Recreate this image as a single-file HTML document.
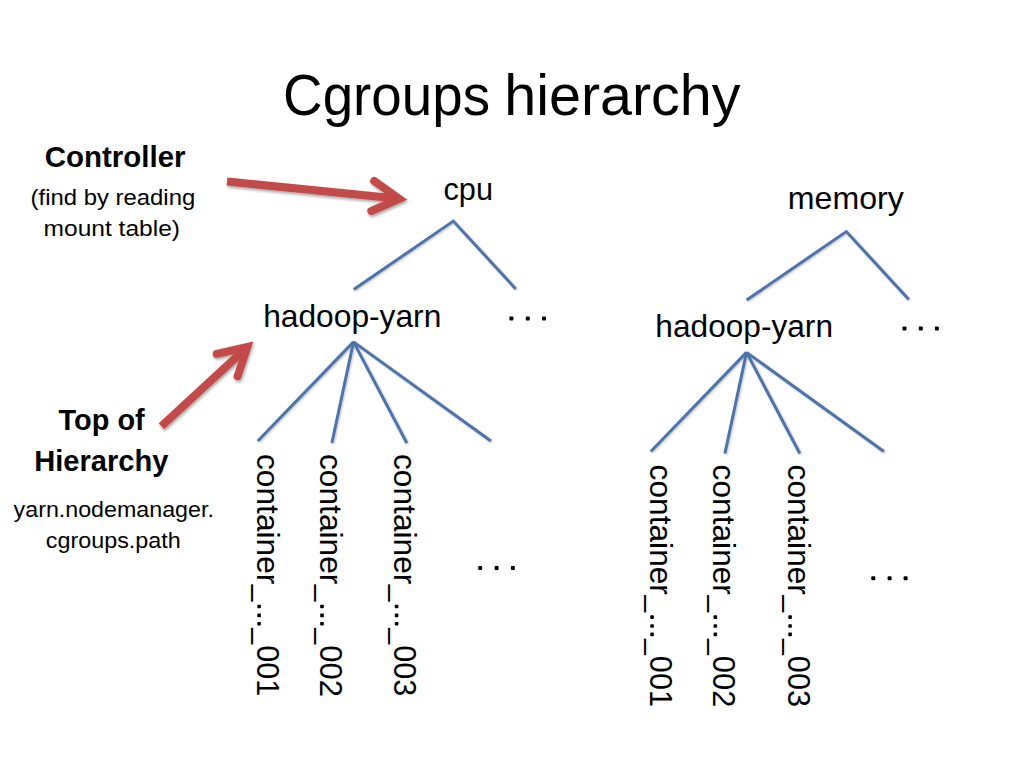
<!DOCTYPE html>
<html><head><meta charset="utf-8"><style>
html,body{margin:0;padding:0;background:#fff;}
body{width:1024px;height:768px;overflow:hidden;}
svg{display:block;}
text{font-family:"Liberation Sans", sans-serif;fill:#000;}
</style></head><body>
<svg width="1024" height="768" viewBox="0 0 1024 768">
<defs>
<filter id="sh" x="-20%" y="-20%" width="140%" height="140%">
<feGaussianBlur in="SourceAlpha" stdDeviation="1.5"/>
<feOffset dx="1" dy="2" result="o"/>
<feComponentTransfer><feFuncA type="linear" slope="0.35"/></feComponentTransfer>
<feMerge><feMergeNode/><feMergeNode in="SourceGraphic"/></feMerge>
</filter>
<filter id="sh2" x="-20%" y="-20%" width="140%" height="140%">
<feGaussianBlur in="SourceAlpha" stdDeviation="1"/>
<feOffset dx="0.7" dy="1.2" result="o"/>
<feComponentTransfer><feFuncA type="linear" slope="0.25"/></feComponentTransfer>
<feMerge><feMergeNode/><feMergeNode in="SourceGraphic"/></feMerge>
</filter>
</defs>
<rect width="1024" height="768" fill="#fff"/>
<g fill="none" stroke="#4E73A9" stroke-width="3" stroke-linejoin="miter" filter="url(#sh2)">
<polyline points="353.7,289.5 453.3,221.1 515.8,288.9" />
<line x1="353.5" y1="341.9" x2="257.8" y2="441" />
<line x1="353.5" y1="341.9" x2="331.9" y2="443" />
<line x1="353.5" y1="341.9" x2="406.8" y2="443" />
<line x1="353.5" y1="341.9" x2="490.9" y2="441" />
<polyline points="746.7,300.0 846.3,231.6 908.8,299.4" />
<line x1="746.5" y1="352.4" x2="650.8" y2="451.5" />
<line x1="746.5" y1="352.4" x2="724.9" y2="453.5" />
<line x1="746.5" y1="352.4" x2="799.8" y2="453.5" />
<line x1="746.5" y1="352.4" x2="883.9" y2="451.5" />
</g>
<g fill="none" stroke="#C24C49" stroke-width="8" filter="url(#sh)">
<line x1="227" y1="181.5" x2="399.3" y2="198.8" stroke-linecap="butt"/><polyline points="374.2,181 399.3,198.8 371.3,211" stroke-linecap="round" stroke-linejoin="miter" stroke-miterlimit="10"/>
<line x1="161.4" y1="426.3" x2="247.3" y2="347" stroke-linecap="butt"/><polyline points="216.7,353.8 247.3,347 237.6,376.2" stroke-linecap="round" stroke-linejoin="miter" stroke-miterlimit="10"/>
</g>
<g fill="#000">
<rect x="478.2" y="566.1" width="4" height="4" rx="1"/>
<rect x="494.6" y="566.1" width="4" height="4" rx="1"/>
<rect x="510.9" y="566.1" width="4" height="4" rx="1"/>
<rect x="509.4" y="316.5" width="4" height="4" rx="1"/>
<rect x="525.8" y="316.5" width="4" height="4" rx="1"/>
<rect x="542.0" y="316.5" width="4" height="4" rx="1"/>
<rect x="902.5" y="326.6" width="4" height="4" rx="1"/>
<rect x="918.8" y="326.6" width="4" height="4" rx="1"/>
<rect x="934.9" y="326.6" width="4" height="4" rx="1"/>
<rect x="871.3" y="576.2" width="4" height="4" rx="1"/>
<rect x="887.6" y="576.2" width="4" height="4" rx="1"/>
<rect x="903.6" y="576.2" width="4" height="4" rx="1"/>
<rect x="257.3" y="604.7" width="3.6" height="3.6" rx="0.8"/>
<rect x="257.3" y="613.6" width="3.6" height="3.6" rx="0.8"/>
<rect x="257.3" y="622.0" width="3.6" height="3.6" rx="0.8"/>
<rect x="320.2" y="604.7" width="3.6" height="3.6" rx="0.8"/>
<rect x="320.2" y="613.6" width="3.6" height="3.6" rx="0.8"/>
<rect x="320.2" y="622.0" width="3.6" height="3.6" rx="0.8"/>
<rect x="394.8" y="604.7" width="3.6" height="3.6" rx="0.8"/>
<rect x="394.8" y="613.6" width="3.6" height="3.6" rx="0.8"/>
<rect x="394.8" y="622.0" width="3.6" height="3.6" rx="0.8"/>
<rect x="650.3" y="615.3" width="3.6" height="3.6" rx="0.8"/>
<rect x="650.3" y="624.2" width="3.6" height="3.6" rx="0.8"/>
<rect x="650.3" y="632.6" width="3.6" height="3.6" rx="0.8"/>
<rect x="713.5" y="615.3" width="3.6" height="3.6" rx="0.8"/>
<rect x="713.5" y="624.2" width="3.6" height="3.6" rx="0.8"/>
<rect x="713.5" y="632.6" width="3.6" height="3.6" rx="0.8"/>
<rect x="788.3" y="615.3" width="3.6" height="3.6" rx="0.8"/>
<rect x="788.3" y="624.2" width="3.6" height="3.6" rx="0.8"/>
<rect x="788.3" y="632.6" width="3.6" height="3.6" rx="0.8"/>
</g>
<g>
<text transform="translate(283.12 115.20) scale(0.9610 1)" font-size="57" font-weight="400">Cgroups</text>
<text transform="translate(504.27 115.20) scale(1.0074 1)" font-size="57" font-weight="400">hierarchy</text>
<text transform="translate(44.82 166.50) scale(0.9817 1)" font-size="30" font-weight="700">Controller</text>
<text transform="translate(30.61 204.70) scale(1.0859 1)" font-size="22" font-weight="400">(find by reading</text>
<text transform="translate(43.57 236.20) scale(1.1160 1)" font-size="22" font-weight="400">mount table)</text>
<text transform="translate(443.51 200.20) scale(0.9894 1)" font-size="31" font-weight="400">cpu</text>
<text transform="translate(787.83 208.90) scale(1.0355 1)" font-size="31" font-weight="400">memory</text>
<text transform="translate(263.20 326.70) scale(1.0232 1)" font-size="31" font-weight="400">hadoop-yarn</text>
<text transform="translate(655.36 336.50) scale(1.0206 1)" font-size="31" font-weight="400">hadoop-yarn</text>
<text transform="translate(58.60 429.70) scale(0.9633 1)" font-size="30" font-weight="700">Top of</text>
<text transform="translate(34.31 470.80) scale(0.9688 1)" font-size="30" font-weight="700">Hierarchy</text>
<text transform="translate(13.60 516.90) scale(1.0569 1)" font-size="22" font-weight="400">yarn.nodemanager.</text>
<text transform="translate(45.84 548.00) scale(1.0608 1)" font-size="22" font-weight="400">cgroups.path</text>
<text transform="translate(256.80 454.01) rotate(90) scale(0.9904 1)" font-size="32" font-weight="400">container</text>
<text transform="translate(256.80 584.80) rotate(90) scale(0.9333 1)" font-size="32" font-weight="400">_</text>
<text transform="translate(256.80 628.30) rotate(90) scale(0.8944 1)" font-size="32" font-weight="400">_</text>
<text transform="translate(256.80 645.25) rotate(90) scale(0.9549 1)" font-size="32" font-weight="400">001</text>
<text transform="translate(319.70 454.01) rotate(90) scale(0.9904 1)" font-size="32" font-weight="400">container</text>
<text transform="translate(319.70 584.80) rotate(90) scale(0.9333 1)" font-size="32" font-weight="400">_</text>
<text transform="translate(319.70 628.30) rotate(90) scale(0.8944 1)" font-size="32" font-weight="400">_</text>
<text transform="translate(319.70 645.23) rotate(90) scale(0.9667 1)" font-size="32" font-weight="400">002</text>
<text transform="translate(394.30 454.01) rotate(90) scale(0.9904 1)" font-size="32" font-weight="400">container</text>
<text transform="translate(394.30 584.80) rotate(90) scale(0.9333 1)" font-size="32" font-weight="400">_</text>
<text transform="translate(394.30 628.30) rotate(90) scale(0.8944 1)" font-size="32" font-weight="400">_</text>
<text transform="translate(394.30 645.25) rotate(90) scale(0.9549 1)" font-size="32" font-weight="400">003</text>
<text transform="translate(649.80 464.61) rotate(90) scale(0.9904 1)" font-size="32" font-weight="400">container</text>
<text transform="translate(649.80 595.40) rotate(90) scale(0.9333 1)" font-size="32" font-weight="400">_</text>
<text transform="translate(649.80 638.90) rotate(90) scale(0.8944 1)" font-size="32" font-weight="400">_</text>
<text transform="translate(649.80 655.84) rotate(90) scale(0.9588 1)" font-size="32" font-weight="400">001</text>
<text transform="translate(713.00 464.61) rotate(90) scale(0.9904 1)" font-size="32" font-weight="400">container</text>
<text transform="translate(713.00 595.40) rotate(90) scale(0.9333 1)" font-size="32" font-weight="400">_</text>
<text transform="translate(713.00 638.90) rotate(90) scale(0.8944 1)" font-size="32" font-weight="400">_</text>
<text transform="translate(713.00 655.84) rotate(90) scale(0.9647 1)" font-size="32" font-weight="400">002</text>
<text transform="translate(787.80 464.61) rotate(90) scale(0.9904 1)" font-size="32" font-weight="400">container</text>
<text transform="translate(787.80 595.40) rotate(90) scale(0.9333 1)" font-size="32" font-weight="400">_</text>
<text transform="translate(787.80 638.90) rotate(90) scale(0.8944 1)" font-size="32" font-weight="400">_</text>
<text transform="translate(787.80 655.84) rotate(90) scale(0.9588 1)" font-size="32" font-weight="400">003</text>
</g>
</svg>
</body></html>
